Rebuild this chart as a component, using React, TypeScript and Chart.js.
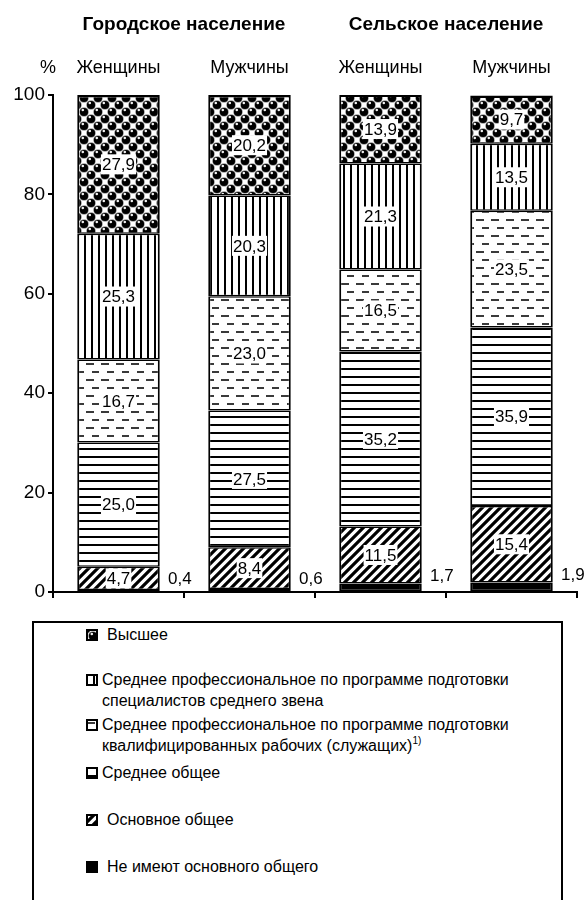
import React, { useEffect, useRef } from 'react';
import { Chart, registerables } from 'chart.js';

Chart.register(...registerables);

// ---- data ----
const groupLabels = ['Женщины', 'Мужчины', 'Женщины', 'Мужчины'];
const populationTitles = ['Городское население', 'Сельское население'];
const yTickValues = [0, 20, 40, 60, 80, 100];

const noBasic = [0.4, 0.6, 1.7, 1.9];
const basicGeneral = [4.7, 8.4, 11.5, 15.4];
const secondaryGeneral = [25.0, 27.5, 35.2, 35.9];
const vocationalWorkers = [16.7, 23.0, 16.5, 23.5];
const vocationalSpecialists = [25.3, 20.3, 21.3, 13.5];
const higher = [27.9, 20.2, 13.9, 9.7];

const nameNoBasic = 'Не имеют основного общего';
const nameBasic = 'Основное общее';
const nameSecondary = 'Среднее общее';
const nameWorkers = ['Среднее профессиональное по программе подготовки', 'квалифицированных рабочих (служащих)'];
const nameSpecialists = ['Среднее профессиональное по программе подготовки', 'специалистов среднего звена'];
const nameHigher = 'Высшее';

const FONT = '"Liberation Sans", Arial, sans-serif';

type Kind = 'solid' | 'diag' | 'hlines' | 'dash' | 'vlines' | 'balls';

function makeFill(kind: Kind): CanvasPattern | string {
  if (kind === 'solid') return '#000';
  const c = document.createElement('canvas');
  let w = 8, h = 8;
  if (kind === 'diag') { w = 9; h = 9; }
  if (kind === 'hlines') { w = 8; h = 8; }
  if (kind === 'vlines') { w = 7; h = 7; }
  if (kind === 'dash') { w = 15; h = 16; }
  if (kind === 'balls') { w = 14; h = 14; }
  c.width = w; c.height = h;
  const ctx = c.getContext('2d')!;
  ctx.fillStyle = '#fff';
  ctx.fillRect(0, 0, w, h);
  ctx.fillStyle = '#000';
  ctx.strokeStyle = '#000';
  if (kind === 'vlines') {
    ctx.fillRect(0, 0, 2, h);
  } else if (kind === 'hlines') {
    ctx.fillRect(0, 0, w, 2);
  } else if (kind === 'dash') {
    ctx.fillStyle = '#3a3a3a';
    ctx.fillRect(2, 3, 7, 2);
    ctx.fillRect(0, 11, 4, 2);
    ctx.fillRect(11, 11, 4, 2);
  } else if (kind === 'diag') {
    ctx.lineWidth = 3.2;
    ctx.beginPath();
    ctx.moveTo(-2, h + 2); ctx.lineTo(w + 2, -2);
    ctx.moveTo(-2, 2); ctx.lineTo(2, -2);
    ctx.moveTo(w - 2, h + 2); ctx.lineTo(w + 2, h - 2);
    ctx.stroke();
  } else if (kind === 'balls') {
    const centers = [[0, 0], [14, 0], [0, 14], [14, 14], [7, 7]];
    centers.forEach(([x, y]) => {
      ctx.fillStyle = '#999';
      ctx.beginPath(); ctx.arc(x, y, 4.8, 0, Math.PI * 2); ctx.fill();
      ctx.fillStyle = '#000';
      ctx.beginPath(); ctx.arc(x, y, 4.1, 0, Math.PI * 2); ctx.fill();
      ctx.fillStyle = '#f0f0f0';
      ctx.beginPath(); ctx.arc(x - 1.2, y - 2, 1.3, 0, Math.PI * 2); ctx.fill();
    });
  }
  return ctx.createPattern(c, 'repeat')!;
}

const fmt = (v: number) => v.toFixed(1).replace('.', ',');

const segLabelPlugin = {
  id: 'segLabels',
  afterDatasetsDraw(chart: any) {
    const ctx = chart.ctx as CanvasRenderingContext2D;
    ctx.save();
    ctx.font = `17px ${FONT}`;
    ctx.textAlign = 'center';
    ctx.textBaseline = 'middle';
    chart.data.datasets.forEach((ds: any, di: number) => {
      const meta = chart.getDatasetMeta(di);
      meta.data.forEach((el: any, i: number) => {
        const txt = fmt(ds.data[i]);
        const w = ctx.measureText(txt).width;
        let cx: number, cy: number;
        if (di === 0) {
          cx = el.x + el.width / 2 + 20;
          cy = (el.y + el.base) / 2 - 12;
        } else {
          cx = el.x;
          cy = (el.y + el.base) / 2;
        }
        ctx.fillStyle = '#fff';
        ctx.fillRect(cx - w / 2 - 1, cy - 10, w + 2, 20);
        ctx.fillStyle = '#000';
        ctx.fillText(txt, cx, cy + 1);
      });
    });
    ctx.restore();
  },
  afterDraw(chart: any) {
    const ctx = chart.ctx as CanvasRenderingContext2D;
    const meta = chart.getDatasetMeta(0);
    const xs = meta.data.map((el: any) => el.x);
    ctx.save();
    ctx.fillStyle = '#000';
    ctx.textAlign = 'center';
    ctx.textBaseline = 'middle';
    ctx.font = `bold 19px ${FONT}`;
    ctx.fillText(populationTitles[0], (xs[0] + xs[1]) / 2, 25);
    ctx.fillText(populationTitles[1], (xs[2] + xs[3]) / 2, 25);
    ctx.font = `18px ${FONT}`;
    groupLabels.forEach((g, i) => ctx.fillText(g, xs[i], 68));
    ctx.fillText('%', 48, 68);
    ctx.restore();
  },
};

function Swatch({ kind, left, top }: { kind: Kind; left: number; top: number }) {
  const ref = useRef<HTMLCanvasElement>(null);
  useEffect(() => {
    const c = ref.current;
    if (!c) return;
    const ctx = c.getContext('2d')!;
    ctx.fillStyle = '#000';
    ctx.fillRect(0, 0, 12, 12);
    ctx.fillStyle = makeFill(kind) as any;
    ctx.fillRect(2, 2, 8, 8);
  }, [kind]);
  return <canvas ref={ref} width={12} height={12} style={{ position: 'absolute', left, top }} />;
}

export default function App() {
  const canvasRef = useRef<HTMLCanvasElement>(null);

  useEffect(() => {
    const canvas = canvasRef.current;
    if (!canvas) return;
    const mk = (label: string, data: number[], kind: Kind, isTop = false) => ({
      label,
      data,
      backgroundColor: makeFill(kind) as any,
      borderColor: '#000',
      borderWidth: { top: isTop ? 2.5 : 1.5, bottom: 1.5, left: 2, right: 2 },
      borderSkipped: false,
      barPercentage: 0.63,
      categoryPercentage: 1,
    });
    const chart = new Chart(canvas, {
      type: 'bar',
      data: {
        labels: groupLabels,
        datasets: [
          mk(nameNoBasic, noBasic, 'solid'),
          mk(nameBasic, basicGeneral, 'diag'),
          mk(nameSecondary, secondaryGeneral, 'hlines'),
          mk(nameWorkers.join(' '), vocationalWorkers, 'dash'),
          mk(nameSpecialists.join(' '), vocationalSpecialists, 'vlines'),
          mk(nameHigher, higher, 'balls', true),
        ] as any,
      },
      options: {
        animation: false,
        responsive: false,
        devicePixelRatio: 1,
        layout: { padding: { top: 95, right: 11, left: 0, bottom: 0 } },
        plugins: { legend: { display: false }, tooltip: { enabled: false } },
        scales: {
          x: {
            stacked: true,
            offset: true,
            grid: { display: true, drawOnChartArea: false, drawTicks: true, tickLength: 6, color: '#000', lineWidth: 2, offset: true },
            border: { display: true, color: '#000', width: 2 },
            ticks: { display: false },
            afterFit: (s: any) => { s.height = 18; },
          },
          y: {
            stacked: true,
            min: 0,
            max: 100,
            afterBuildTicks: (s: any) => { s.ticks = yTickValues.map((v) => ({ value: v })); },
            ticks: { color: '#000', font: { size: 19, family: FONT }, padding: 3 },
            grid: { drawOnChartArea: false, drawTicks: true, tickLength: 5, color: '#000', lineWidth: 2 },
            border: { display: true, color: '#000', width: 2 },
            afterFit: (s: any) => { s.width = 53; },
          },
        } as any,
      },
      plugins: [segLabelPlugin],
    });
    return () => chart.destroy();
  }, []);

  const legendText: React.CSSProperties = {
    position: 'absolute',
    fontSize: 16,
    lineHeight: '21px',
    whiteSpace: 'nowrap',
    color: '#000',
  };

  return (
    <div style={{ position: 'fixed', left: 0, top: 0, width: 588, height: 900, overflow: 'hidden', background: '#fff', fontFamily: FONT }}>
      <canvas ref={canvasRef} width={588} height={610} style={{ position: 'absolute', left: 0, top: 0 }} />
      <div style={{ position: 'absolute', left: 32, top: 621, width: 527, height: 320, border: '2px solid #000' }} />
      <Swatch kind="balls" left={86} top={629} />
      <div style={{ ...legendText, left: 107, top: 624 }}>{nameHigher}</div>
      <Swatch kind="vlines" left={86} top={674} />
      <div style={{ ...legendText, left: 102, top: 669 }}>{nameSpecialists[0]}<br />{nameSpecialists[1]}</div>
      <Swatch kind="dash" left={86} top={719} />
      <div style={{ ...legendText, left: 102, top: 714 }}>
        {nameWorkers[0]}<br />{nameWorkers[1]}
        <span style={{ fontSize: 10, position: 'relative', top: -7 }}>1)</span>
      </div>
      <Swatch kind="hlines" left={86} top={767} />
      <div style={{ ...legendText, left: 102, top: 762 }}>{nameSecondary}</div>
      <Swatch kind="diag" left={86} top={814} />
      <div style={{ ...legendText, left: 107, top: 809 }}>{nameBasic}</div>
      <Swatch kind="solid" left={86} top={861} />
      <div style={{ ...legendText, left: 107, top: 856 }}>{nameNoBasic}</div>
    </div>
  );
}
